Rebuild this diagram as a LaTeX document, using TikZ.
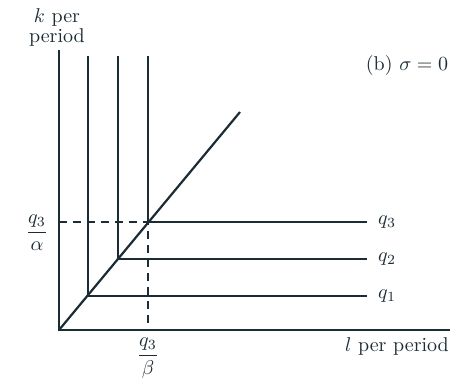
\documentclass[tikz,border=0pt]{standalone}
\usepackage{amsmath}
\usetikzlibrary{calc}
\definecolor{inkcol}{RGB}{28,44,52}
\tikzset{
  isoquant/.style={inkcol, line width=1.1pt},
  guide/.style={inkcol, line width=0.8pt, dashed, dash pattern=on 4pt off 3pt},
  lbl/.style={inkcol, inner sep=1pt}
}

\begin{document}
\begin{tikzpicture}[x=0.5pt, y=-0.5pt, line width=1pt]

  \useasboundingbox (0,0) rectangle (454,377);

  % --- coordinates -------------------------------------------------------
  \coordinate (Origin) at (59,330);
  \coordinate (YTop)   at (59,50);
  \coordinate (XEnd)   at (450,330);
  \coordinate (KinkA)  at (88,296);
  \coordinate (KinkB)  at (118,259);
  \coordinate (KinkC)  at (148,222);
  \coordinate (RayEnd) at (240,112);
  \coordinate (YqC)    at (59,222);
  \coordinate (XqC)    at (148,330);

  % --- axes ----------------------------------------------------------------
  \draw[inkcol] (YTop) -- (Origin) -- (XEnd);
  \node[lbl, align=center] (klab) at (57,27) {$k$ per\\[-2pt]period};
  \node[lbl] (llab) at (397,346) {$l$ per period};

  % --- ray through the kinks -----------------------------------------------
  \draw[isoquant] (Origin) -- (RayEnd);

  % --- L-shaped isoquants --------------------------------------------------
  \draw[isoquant] (KinkA |- 0,56) -- (KinkA) -- (367,296) node[lbl, right=4pt] (qA) {$q_1$};
  \draw[isoquant] (KinkB |- 0,56) -- (KinkB) -- (367,259) node[lbl, right=4pt] (qB) {$q_2$};
  \draw[isoquant] (KinkC |- 0,56) -- (KinkC) -- (367,222) node[lbl, right=4pt] (qC) {$q_3$};

  % --- dashed guides to the axes ------------------------------------------
  \draw[guide] (YqC) -- (KinkC) -- (XqC);
  \node[lbl] (fracA) at (37,233) {$\dfrac{q_3}{\alpha}$};
  \node[lbl] (fracB) at (148,358) {$\dfrac{q_3}{\beta}$};

  % --- panel title ---------------------------------------------------------
  \node[lbl] (title) at (407,65) {(b) $\sigma = 0$};

\end{tikzpicture}
\end{document}
